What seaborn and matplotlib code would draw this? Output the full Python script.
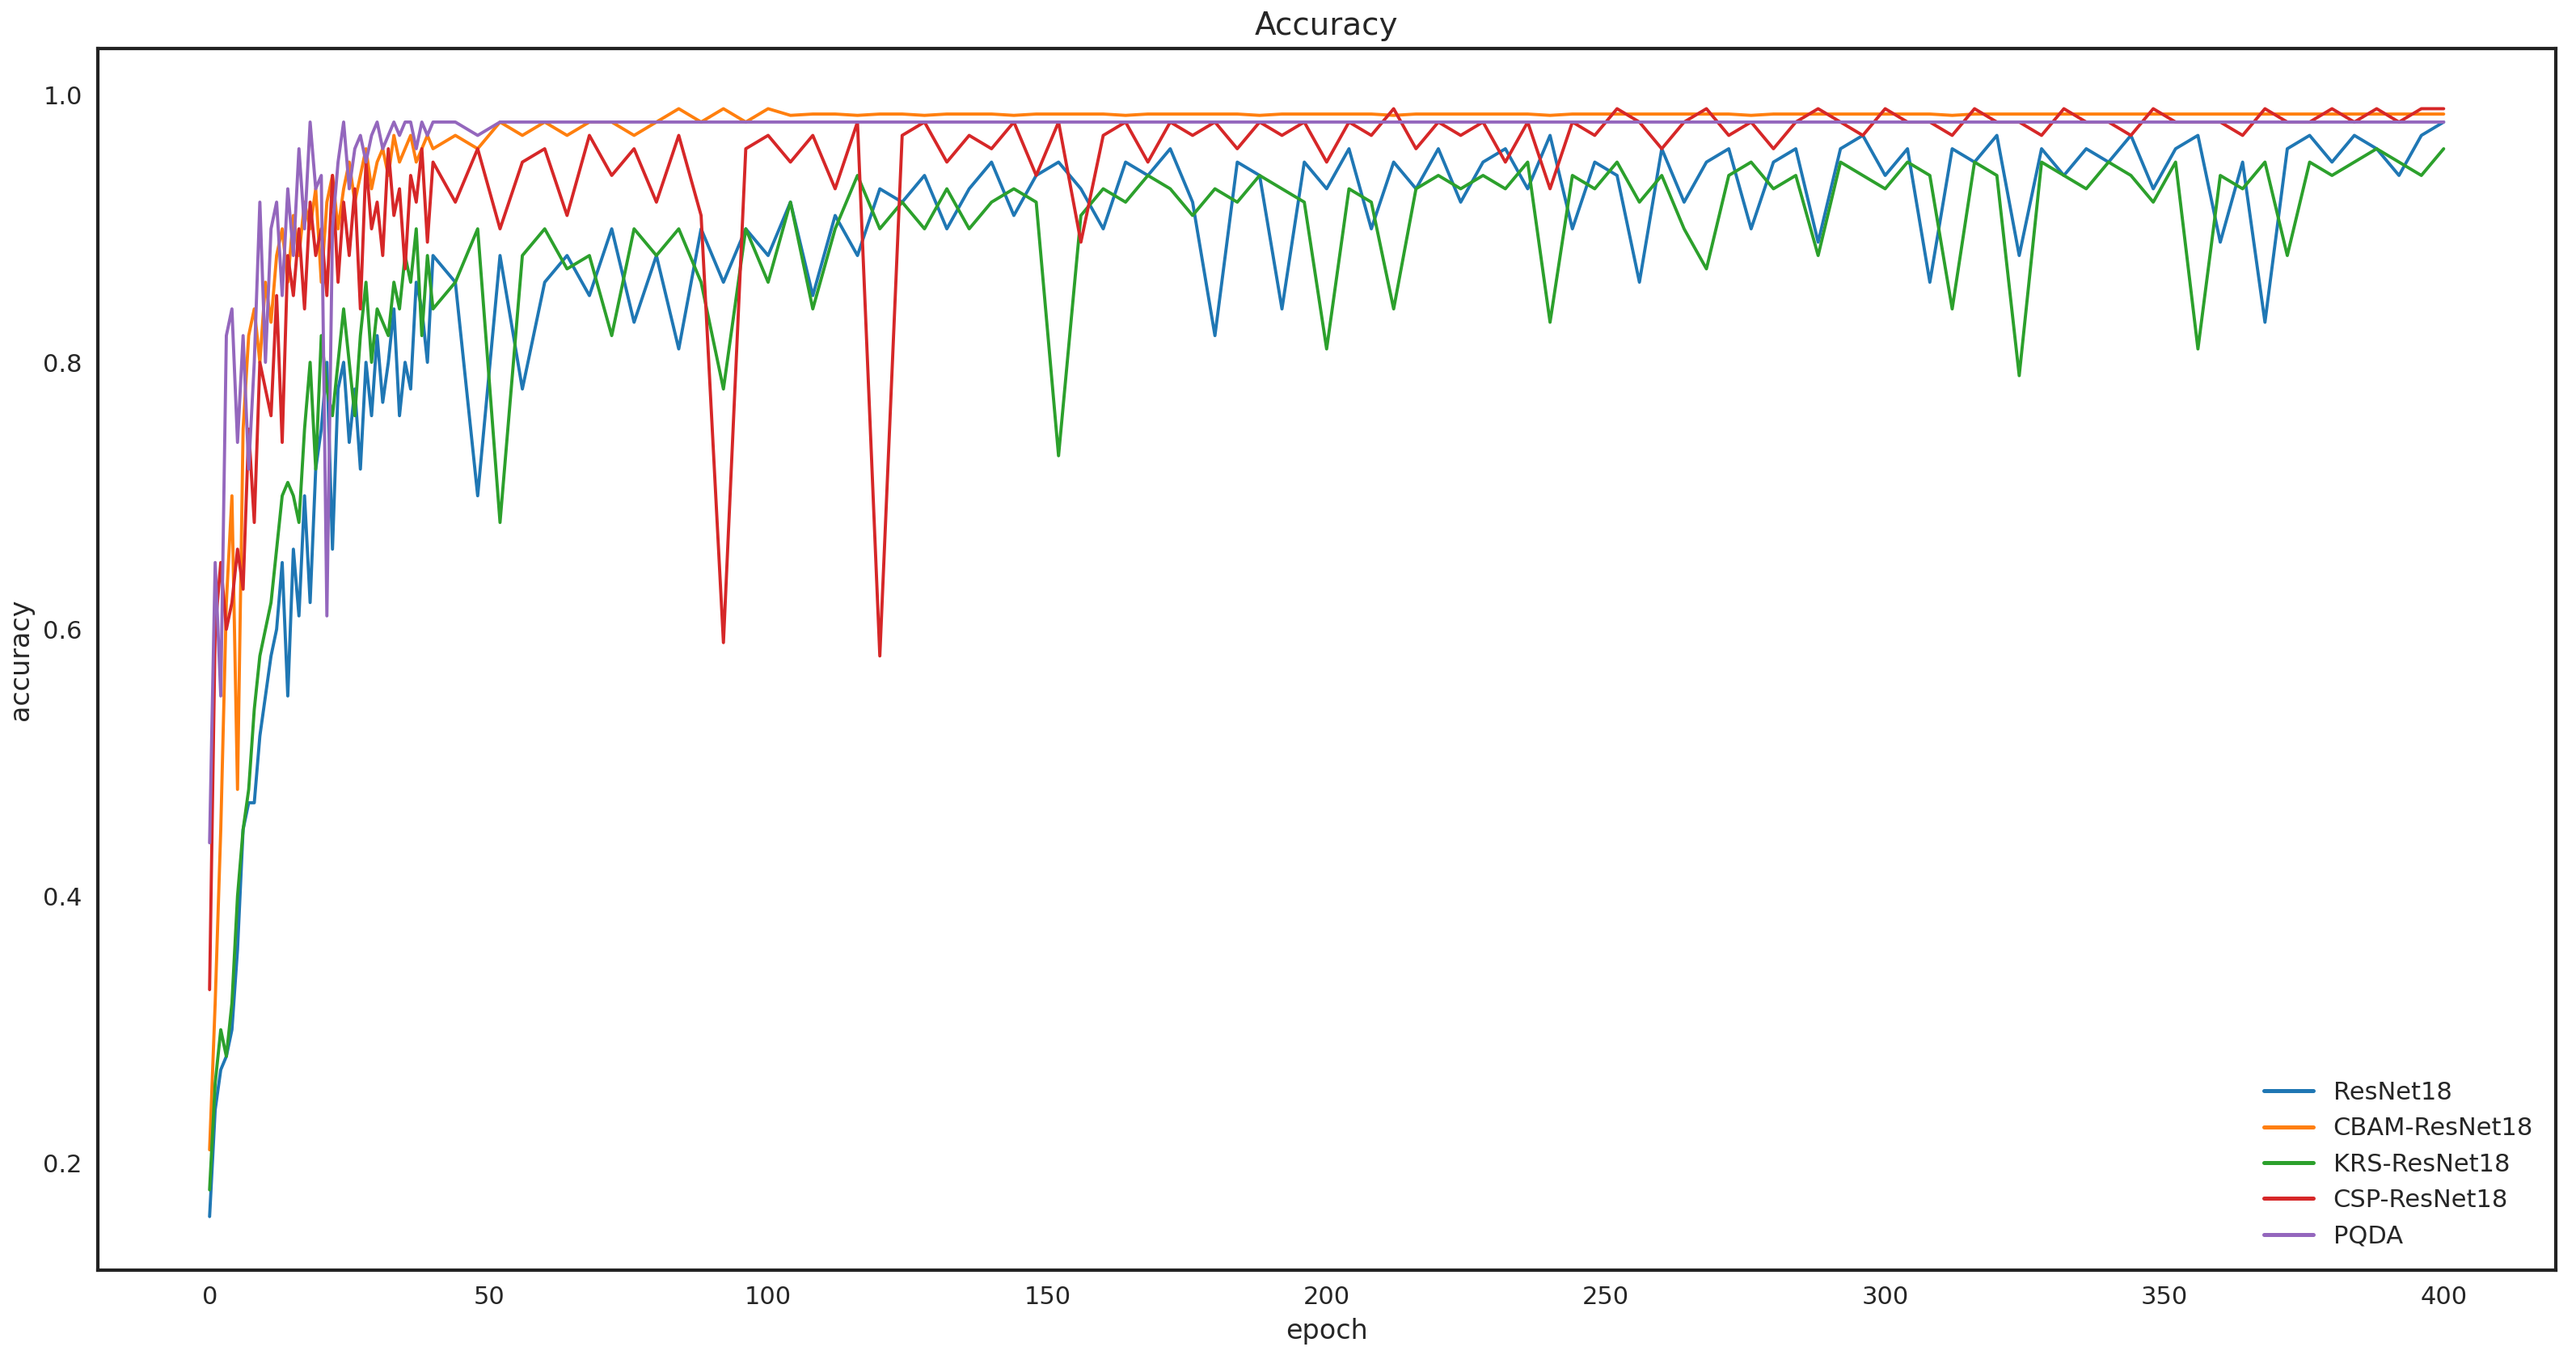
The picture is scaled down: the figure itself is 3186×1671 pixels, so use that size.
import numpy as np
import pandas as pd
import matplotlib
matplotlib.use("Agg")
import matplotlib.pyplot as plt
import seaborn as sns

epochs = list(range(0, 41)) + list(range(44, 401, 4))

resnet18 = [0.16,0.24,0.27,0.28,0.30,0.36,0.45,0.47,0.47,0.52,0.55,0.58,0.60,0.65,0.55,0.66,0.61,0.70,0.62,0.72,
            0.75,0.80,0.66,0.78,0.80,0.74,0.78,0.72,0.80,0.76,0.82,0.77,0.80,0.84,0.76,0.80,0.78,0.86,0.84,0.80,0.88,
            0.86,0.70,0.88,0.78,0.86,0.88,0.85,0.90,0.83,0.88,0.81,0.90,0.86,0.90,0.88,0.92,0.85,0.91,0.88,0.93,
            0.92,0.94,0.90,0.93,0.95,0.91,0.94,0.95,0.93,0.90,0.95,0.94,0.96,0.92,0.82,0.95,0.94,0.84,0.95,0.93,
            0.96,0.90,0.95,0.93,0.96,0.92,0.95,0.96,0.93,0.97,0.90,0.95,0.94,0.86,0.96,0.92,0.95,0.96,0.90,0.95,
            0.96,0.89,0.96,0.97,0.94,0.96,0.86,0.96,0.95,0.97,0.88,0.96,0.94,0.96,0.95,0.97,0.93,0.96,0.97,0.89,
            0.95,0.83,0.96,0.97,0.95,0.97,0.96,0.94,0.97,0.98]
cbam_resnet18 = [0.21,0.32,0.45,0.62,0.70,0.48,0.75,0.82,0.84,0.80,0.86,0.83,0.88,0.90,0.86,0.91,0.88,0.92,0.90,0.93,
                 0.86,0.92,0.94,0.90,0.93,0.95,0.92,0.94,0.96,0.93,0.95,0.96,0.94,0.97,0.95,0.96,0.97,0.95,0.96,0.97,0.96,
                 0.97,0.96,0.98,0.97,0.98,0.97,0.98,0.98,0.97,0.98,0.99,0.98,0.99,0.98,0.99,0.985,0.986,0.986,0.985,0.986,
                 0.986,0.985,0.986,0.986,0.986,0.985,0.986,0.986,0.986,0.986,0.985,0.986,0.986,0.986,0.986,0.986,0.985,0.986,0.986,0.986,
                 0.986,0.986,0.985,0.986,0.986,0.986,0.986,0.986,0.986,0.985,0.986,0.986,0.986,0.986,0.986,0.986,0.986,0.986,0.985,0.986,
                 0.986,0.986,0.986,0.986,0.986,0.986,0.986,0.985,0.986,0.986,0.986,0.986,0.986,0.986,0.986,0.986,0.986,0.986,0.986,0.986,
                 0.986,0.986,0.986,0.986,0.986,0.986,0.986,0.986,0.986,0.986]
krs_resnet18 = [0.18,0.26,0.30,0.28,0.32,0.40,0.45,0.48,0.54,0.58,0.60,0.62,0.66,0.70,0.71,0.70,0.68,0.75,0.80,0.72,
                0.82,0.78,0.76,0.80,0.84,0.80,0.76,0.82,0.86,0.80,0.84,0.83,0.82,0.86,0.84,0.88,0.86,0.90,0.82,0.88,0.84,
                0.86,0.90,0.68,0.88,0.90,0.87,0.88,0.82,0.90,0.88,0.90,0.86,0.78,0.90,0.86,0.92,0.84,0.90,0.94,0.90,
                0.92,0.90,0.93,0.90,0.92,0.93,0.92,0.73,0.91,0.93,0.92,0.94,0.93,0.91,0.93,0.92,0.94,0.93,0.92,0.81,
                0.93,0.92,0.84,0.93,0.94,0.93,0.94,0.93,0.95,0.83,0.94,0.93,0.95,0.92,0.94,0.90,0.87,0.94,0.95,0.93,
                0.94,0.88,0.95,0.94,0.93,0.95,0.94,0.84,0.95,0.94,0.79,0.95,0.94,0.93,0.95,0.94,0.92,0.95,0.81,0.94,
                0.93,0.95,0.88,0.95,0.94,0.95,0.96,0.95,0.94,0.96]
csp_resnet18 = [0.33,0.60,0.65,0.60,0.62,0.66,0.63,0.75,0.68,0.80,0.78,0.76,0.85,0.74,0.88,0.85,0.90,0.84,0.92,0.88,
                0.90,0.85,0.94,0.86,0.92,0.88,0.93,0.84,0.95,0.90,0.92,0.88,0.96,0.91,0.93,0.87,0.94,0.92,0.96,0.89,0.95,
                0.92,0.96,0.90,0.95,0.96,0.91,0.97,0.94,0.96,0.92,0.97,0.91,0.59,0.96,0.97,0.95,0.97,0.93,0.98,0.58,
                0.97,0.98,0.95,0.97,0.96,0.98,0.94,0.98,0.89,0.97,0.98,0.95,0.98,0.97,0.98,0.96,0.98,0.97,0.98,0.95,
                0.98,0.97,0.99,0.96,0.98,0.97,0.98,0.95,0.98,0.93,0.98,0.97,0.99,0.98,0.96,0.98,0.99,0.97,0.98,0.96,
                0.98,0.99,0.98,0.97,0.99,0.98,0.98,0.97,0.99,0.98,0.98,0.97,0.99,0.98,0.98,0.97,0.99,0.98,0.98,0.98,
                0.97,0.99,0.98,0.98,0.99,0.98,0.99,0.98,0.99,0.99]
pqda = [0.44,0.65,0.55,0.82,0.84,0.74,0.82,0.72,0.80,0.92,0.80,0.90,0.92,0.85,0.93,0.88,0.96,0.90,0.98,0.93,
        0.94,0.61,0.90,0.95,0.98,0.93,0.96,0.97,0.95,0.97,0.98,0.96,0.97,0.98,0.97,0.98,0.98,0.96,0.98,0.97,0.98,
        0.98,0.97,0.98,0.98,0.98,0.98,0.98,0.98,0.98,0.98,0.98,0.98,0.98,0.98,0.98,0.98,0.98,0.98,0.98,0.98,
        0.98,0.98,0.98,0.98,0.98,0.98,0.98,0.98,0.98,0.98,0.98,0.98,0.98,0.98,0.98,0.98,0.98,0.98,0.98,0.98,
        0.98,0.98,0.98,0.98,0.98,0.98,0.98,0.98,0.98,0.98,0.98,0.98,0.98,0.98,0.98,0.98,0.98,0.98,0.98,0.98,
        0.98,0.98,0.98,0.98,0.98,0.98,0.98,0.98,0.98,0.98,0.98,0.98,0.98,0.98,0.98,0.98,0.98,0.98,0.98,0.98,
        0.98,0.98,0.98,0.98,0.98,0.98,0.98,0.98,0.98,0.98]

models = ["ResNet18", "CBAM-ResNet18", "KRS-ResNet18", "CSP-ResNet18", "PQDA"]
series = [resnet18, cbam_resnet18, krs_resnet18, csp_resnet18, pqda]

rows = []
for name, vals in zip(models, series):
    for e, v in zip(epochs, vals):
        rows.append((name, e, v))
df = pd.DataFrame(rows, columns=["model", "epoch", "accuracy"])

sns.set_style("white")
fig, ax = plt.subplots(figsize=(15.93, 8.355), dpi=200)
fig.subplots_adjust(left=0.038, right=0.992, bottom=0.06, top=0.964)
sns.lineplot(data=df, x="epoch", y="accuracy", hue="model", hue_order=models,
             palette=sns.color_palette("tab10", 5), linewidth=1.4, ax=ax)

ax.set_title("Accuracy", fontsize=14)
ax.set_xlabel("epoch", fontsize=12)
ax.set_ylabel("accuracy", fontsize=12)
ax.tick_params(labelsize=11)
ax.set_xlim(-20, 420)
ax.set_ylim(0.12, 1.035)
ax.set_yticks([0.2, 0.4, 0.6, 0.8, 1.0])
for s in ax.spines.values():
    s.set_color("#222222")
    s.set_linewidth(1.5)
leg = ax.legend(loc="lower right", frameon=False, fontsize=11, title=None)
for line in leg.get_lines():
    line.set_linewidth(1.8)

fig.savefig("out.png", dpi=200)
